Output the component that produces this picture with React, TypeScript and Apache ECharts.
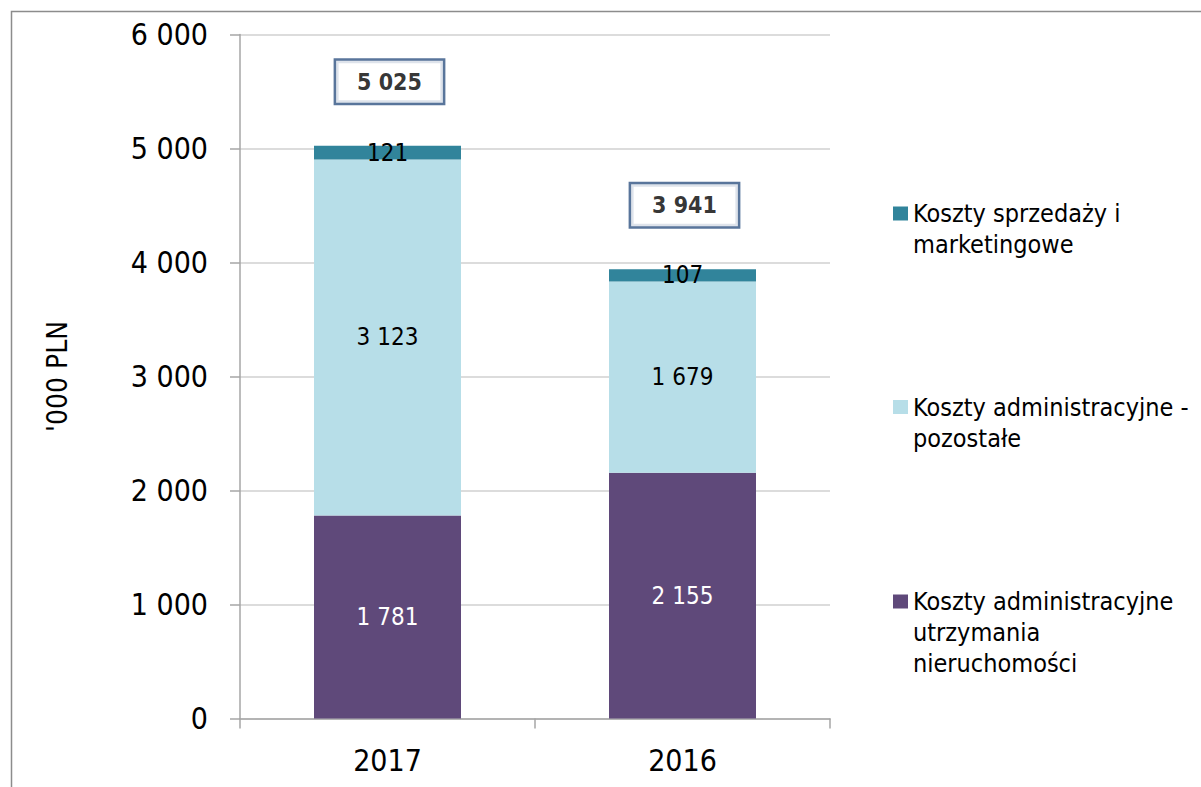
import React, { useEffect, useRef } from "react";
import * as echarts from "echarts";

const years = ["2017", "2016"];
const seriesNames = [
  "Koszty administracyjne utrzymania nieruchomości",
  "Koszty administracyjne - pozostałe",
  "Koszty sprzedaży i marketingowe",
];
const utrzymania = [1781, 2155];
const pozostale = [3123, 1679];
const sprzedaz = [121, 107];
const yTicks = [0, 1000, 2000, 3000, 4000, 5000, 6000];

const legendLines: Record<string, string[]> = {
  "Koszty administracyjne utrzymania nieruchomości": ["Koszty administracyjne", "utrzymania", "nieruchomości"],
  "Koszty administracyjne - pozostałe": ["Koszty administracyjne -", "pozostałe"],
  "Koszty sprzedaży i marketingowe": ["Koszty sprzedaży i", "marketingowe"],
};

const colors = ["#5f497a", "#b7dee8", "#31849b"];
const FONT = "DejaVu Sans Condensed, DejaVu Sans";

function fmt(v: number): string {
  const s = Math.round(v).toString();
  return s.replace(/\B(?=(\d{3})+(?!\d))/g, " ");
}

export default function App() {
  const ref = useRef<HTMLDivElement>(null);
  useEffect(() => {
    if (!ref.current) return;
    const chart = echarts.init(ref.current, null, { renderer: "svg" });
    const totals = years.map((_, i) => utrzymania[i] + pozostale[i] + sprzedaz[i]);
    const values = [utrzymania, pozostale, sprzedaz];
    const labelColors = ["#ffffff", "#000000", "#000000"];
    const LH = 31;
    const legendItems = [
      { name: seriesNames[2], center: 213.5 },
      { name: seriesNames[1], center: 407 },
      { name: seriesNames[0], center: 601.5 },
    ];
    chart.setOption({
      animation: false,
      textStyle: { fontFamily: FONT },
      graphic: [
        {
          type: "rect",
          shape: { x: 11.5, y: 11.5, width: 1300, height: 900 },
          style: { fill: "none", stroke: "#8c8c8c", lineWidth: 1.5 },
          silent: true,
        },
      ],
      grid: { left: 240, top: 34.5, right: 371, bottom: 68.5 },
      legend: legendItems.map((it) => {
        const n = legendLines[it.name].length;
        return {
          data: [it.name],
          orient: "vertical",
          left: 893,
          top: it.center - ((2 * n - 1) * LH) / 2,
          padding: 0,
          itemWidth: 15,
          itemHeight: 14,
          icon: "rect",
          selectedMode: false,
          formatter: (name: string) => {
            const lines = legendLines[name];
            const pad = lines.slice(1).map(() => "\u00a0");
            return pad.concat(lines).join("\n");
          },
          textStyle: {
            fontFamily: FONT,
            fontSize: 25,
            lineHeight: LH,
            color: "#000",
          },
        };
      }),
      xAxis: {
        type: "category",
        data: years,
        axisLine: { lineStyle: { color: "#a6a6a6", width: 1.5 } },
        axisTick: { show: true, length: 10, lineStyle: { color: "#a6a6a6", width: 1.5 } },
        axisLabel: { fontSize: 30, color: "#000", margin: 27, fontFamily: FONT },
      },
      yAxis: {
        type: "value",
        min: yTicks[0],
        max: yTicks[yTicks.length - 1],
        interval: 1000,
        name: "'000 PLN",
        nameLocation: "middle",
        nameRotate: 90,
        nameGap: 169,
        nameTextStyle: { fontSize: 28, color: "#000", fontFamily: FONT },
        axisLine: { show: true, lineStyle: { color: "#a6a6a6", width: 1.5 } },
        axisTick: { show: true, length: 10, lineStyle: { color: "#a6a6a6", width: 1.5 } },
        axisLabel: {
          fontSize: 30,
          color: "#000",
          margin: 32,
          fontFamily: FONT,
          formatter: (v: number) => fmt(v),
        },
        splitLine: { lineStyle: { color: "#d0d0d0", width: 1.5 } },
      },
      series: [
        ...values.map((arr, si) => ({
          name: seriesNames[si],
          type: "bar",
          stack: "total",
          barWidth: 147,
          data: arr,
          itemStyle: { color: colors[si] },
          label: {
            show: true,
            position: "inside",
            color: labelColors[si],
            fontSize: 24,
            fontFamily: FONT,
            formatter: (p: any) => fmt(p.value),
          },
        })),
        {
          name: "Suma",
          type: "scatter",
          data: totals,
          symbolSize: 1,
          itemStyle: { color: "rgba(0,0,0,0)" },
          silent: true,
          label: {
            show: true,
            position: "inside",
            offset: [2, -64],
            formatter: (p: any) => fmt(p.value),
            fontSize: 23,
            fontWeight: "bold",
            fontFamily: FONT,
            color: "#000",
            backgroundColor: "#ffffff",
            borderColor: "#2f5282",
            borderWidth: 2.5,
            padding: [10, 21, 9, 21],
          },
        },
      ],
    });
    return () => chart.dispose();
  }, []);
  return (
    <div
      ref={ref}
      style={{ position: "absolute", left: 0, top: 0, width: 1201, height: 787, background: "#fff" }}
    />
  );
}
